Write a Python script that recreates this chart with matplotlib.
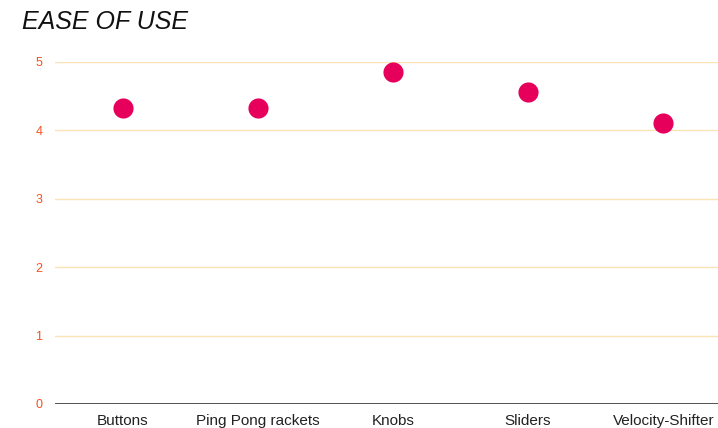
import matplotlib
matplotlib.use("Agg")
import matplotlib.pyplot as plt

categories = ["Buttons", "Ping Pong rackets", "Knobs", "Sliders", "Velocity-Shifter"]
values = [4.33, 4.33, 4.85, 4.56, 4.11]
yticks = [0, 1, 2, 3, 4, 5]

plt.rcParams['font.family'] = ['Liberation Sans', 'DejaVu Sans']

W, H = 718, 428
fig = plt.figure(figsize=(W/100, H/100), dpi=100)
left, right = 55/W, 1.0
bottom, top = 1 - 404/H, 1 - 62/H
ax = fig.add_axes([left, bottom, right-left, top-bottom])

x = list(range(len(categories)))
ax.scatter(x, values, s=210, color="#E6005C", zorder=3, clip_on=False, linewidths=0)

ax.set_xlim(-0.5, (718-122)/135.3 - 0.0)
ax.set_ylim(0, 5)
ax.set_yticks(yticks)
ax.set_yticklabels([str(v) for v in yticks], color="#F4511E", fontsize=9)
ax.set_xticks(x)
ax.set_xticklabels(categories, fontsize=11, color="#222222")
ax.tick_params(axis='both', length=0)
ax.tick_params(axis='y', pad=9)
ax.tick_params(axis='x', pad=7)

for v in yticks[1:]:
    ax.axhline(v, color="#FBE3B5", lw=1, zorder=1)
ax.axhline(0, color="#333333", lw=1.2, zorder=2)

for s in ax.spines.values():
    s.set_visible(False)

fig.text(22/W, 1 - 22/H, "EASE OF USE", fontsize=18, style='italic', color="#111111",
         ha='left', va='center')

fig.savefig("out.png", dpi=100)
